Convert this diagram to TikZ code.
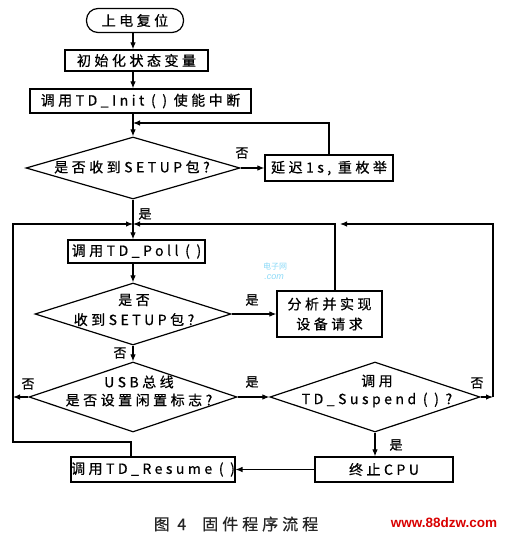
\documentclass[tikz,border=0pt]{standalone}
\usepackage{fontspec}
\usetikzlibrary{shapes.geometric,arrows.meta}
\newfontfamily\cjk{Noto Sans CJK SC}[LetterSpace=25, FakeBold=0.6]
\newfontfamily\cjkplain{Noto Sans CJK SC}
\newfontfamily\lib{Liberation Sans}
\begin{document}
\begin{tikzpicture}[x=1pt,y=-1pt,
  font=\cjk\fontsize{14}{20}\selectfont,
  box/.style={draw, line width=1.2pt, inner sep=0pt},
  diam/.style={draw, diamond, line width=1.2pt, inner sep=0pt},
  arr/.style={line width=1.1pt, -{Latex[length=7pt,width=5.5pt]}},
  lbl/.style={font=\cjk\fontsize{13}{15}\selectfont, inner sep=0pt}]
\useasboundingbox (0,0) rectangle (505,540);
\fill[white] (0,0) rectangle (505,540);
% axis and loop coordinates
\coordinate (ax) at (133,0);
\coordinate (m1) at (133,123);
\coordinate (m2) at (133,224);
\coordinate (ll) at (13,224);
\coordinate (lb) at (13,442);
\coordinate (rb) at (131,442);
\coordinate (rr) at (493,224);
\coordinate (j) at (335,224);
% nodes
\node[box, rounded corners=11.5pt, minimum width=97pt, minimum height=24pt] (start) at (135,20.5) {上电复位};
\node[box, minimum width=143pt, minimum height=21pt] (init) at (136.5,60.5) {初始化状态变量};
\node[box, minimum width=221pt, minimum height=24pt] (tdinit) at (140.5,101) {调用TD\_Init ( ) 使能中断};
\node[diam, minimum width=214pt, minimum height=62pt] (d1) at (133,168) {};
\node (d1t) at (132,167) {是否收到SETUP包?};
\node[box, minimum width=128pt, minimum height=26pt] (delay) at (329,168) {延迟1s, 重枚举};
\node[box, minimum width=137pt, minimum height=23pt] (poll) at (136.5,251.5) {调用TD\_Poll ( )};
\node[diam, minimum width=196pt, minimum height=62pt] (d2) at (133,314) {};
\node[align=center] (d2t) at (134,310) {是否\\收到SETUP包?};
\node[box, minimum width=105pt, minimum height=46pt, align=center] (anal) at (329.5,314) {分析并实现\\设备请求};
\node[diam, minimum width=208pt, minimum height=70pt] (d3) at (133,397) {};
\node[align=center, font=\cjk\fontsize{14}{18}\selectfont] (d3t) at (139,391) {USB总线\\是否设置闲置标志?};
\node[diam, minimum width=210pt, minimum height=70pt] (d4) at (375,397) {};
\node[align=center, font=\cjk\fontsize{14}{18}\selectfont] (d4t) at (377,391) {调用\\TD\_Suspend ( ) ?};
\node[box, minimum width=138pt, minimum height=25pt] (stop) at (384,469.5) {终止CPU};
\node[box, minimum width=160pt, minimum height=25pt] (resume) at (153,469.5) {调用TD\_Resume ( )};
% connectors
\draw[arr] (start.south -| ax) -- (init.north -| ax);
\draw[arr] (init.south -| ax) -- (tdinit.north -| ax);
\draw[arr] (tdinit.south -| ax) -- (d1.north);
\draw[arr] (delay.north) |- (m1);
\draw[arr] (d1.east) -- (delay.west);
\draw[arr] (d1.south) -- (poll.north -| ax);
\draw[arr] (poll.south -| ax) -- (d2.north);
\draw[arr] (d2.east) -- (d2.east -| anal.west);
\draw[arr] (anal.north -| j) -- (j) -- (m2);
\draw[arr] (d2.south) -- (d3.north);
\draw[arr] (d3.east) -- (d4.west);
\draw[arr] (d3.west) -- (d3.west -| ll);
\draw[arr] (resume.north -| rb) -- (rb) -- (lb) -- (ll) -- (m2);
\draw[arr] (d4.east) -- (d4.east -| rr);
\draw[arr] (d4.east -| rr) -- (rr) -- ([xshift=5pt]j);
\draw[arr] (d4.south) -- (d4.south |- stop.north);
\draw[arr] (stop.west) -- (resume.east);
% labels
\node[lbl] (l1) at (242,153) {否};
\node[lbl] (l2) at (145,214) {是};
\node[lbl] (l3) at (252,300) {是};
\node[lbl] (l4) at (120,353) {否};
\node[lbl] (l5) at (28,384) {否};
\node[lbl] (l6) at (252,382) {是};
\node[lbl] (l7) at (477,383) {否};
\node[lbl] (l8) at (396,445) {是};
% watermark
\node[text=cyan!45, font=\cjkplain\fontsize{8}{8}\selectfont, inner sep=0pt] (w1) at (275,266) {电子网};
\node[text=cyan!45, font=\lib\itshape\fontsize{9}{9}\selectfont, inner sep=0pt] (w2) at (274,277) {.com};
% caption
\node[text=black!85, font=\cjk\fontsize{16}{18}\selectfont] (cap) at (236,524) {图 4\quad 固件程序流程};
\node[text=red!85!black, font=\lib\bfseries\fontsize{13.5}{15}\selectfont] (site) at (444,523) {www.88dzw.com};
\end{tikzpicture}
\end{document}
